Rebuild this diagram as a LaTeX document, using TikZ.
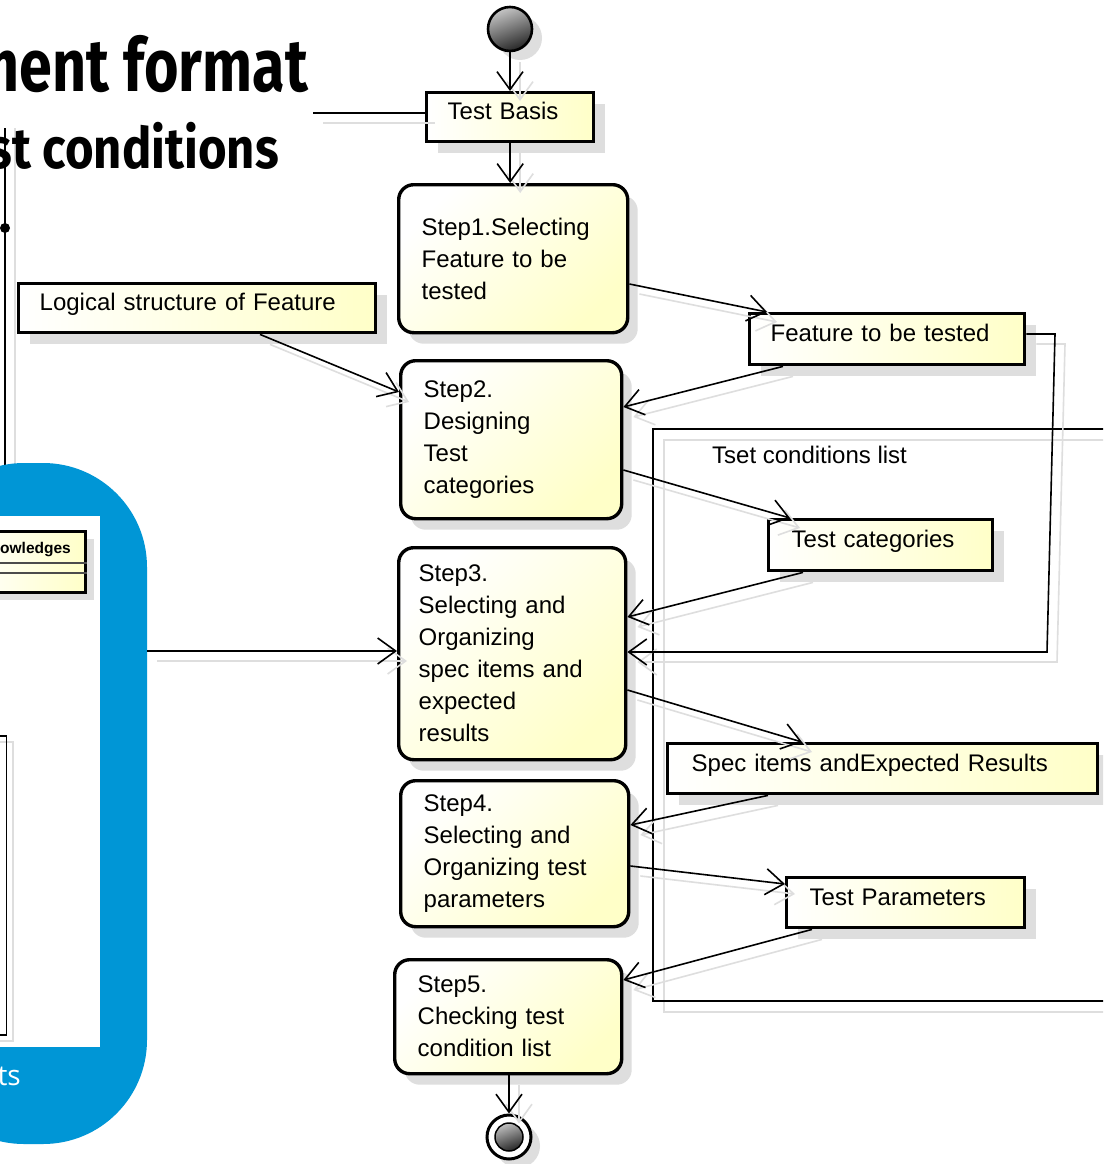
\documentclass[tikz,border=0pt]{standalone}
\usepackage{fontspec}
\usepackage{graphicx}
\setmainfont{Liberation Sans}
\newfontfamily\titlefont{Fira Sans}
\newfontfamily\bluefont{Open Sans}
\usetikzlibrary{arrows.meta,shadows,calc}
\definecolor{ylw}{RGB}{255,255,200}
\definecolor{shgray}{RGB}{222,222,222}
\definecolor{hpblue}{RGB}{0,150,214}
\newcommand{\myconns}[1]{%
  \draw[conn,#1] (start) -- (start |- tb.north);
  \draw[conn,#1] (tb) -- (tb |- s1.north);
  \draw[conn,#1] (s5.south -| endo) -- (endo);
  \draw[conn,#1] (s1.east |- 0,284) -- (767,0 |- ft.north);
  \draw[conn,#1] (783,0 |- ft.south) -- (s2.east |- 0,407);
  \draw[conn,#1] (260,0 |- ls.south) -- (s2.west |- 0,392);
  \draw[conn,#1] (s2.east |- 0,470) -- (790,0 |- tc.north);
  \draw[conn,#1] (803,0 |- tc.south) -- (s3.east |- 0,617);
  \draw[conn,#1] (ft.east |- 0,334) -- (fr1) -- (fr2) -- (s3.east |- 0,652);
  \draw[conn,#1] (s3.east |- 0,690) -- (802,0 |- si.north);
  \draw[conn,#1] (768,0 |- si.south) -- (s4.east |- 0,825);
  \draw[conn,#1] (s4.east |- 0,866) -- (tp.west |- 0,884);
  \draw[conn,#1] (812,0 |- tp.south) -- (s5.east |- 0,980);
  \draw[conn,#1] (bl) -- (s3.west |- 0,651);
  \draw[line width=1.6pt,#1] (tbl) -- (tb.west |- 0,113);
}
\begin{document}
\begin{tikzpicture}[x=1pt,y=-1pt,
  stepbox/.style={draw=black, line width=3.4pt, rounded corners=15pt,
    left color=white, right color=ylw, shading angle=45,
    anchor=north west, align=left, inner xsep=22pt, inner ysep=0pt,
    font=\fontsize{24}{32}\selectfont,
    drop shadow={shadow xshift=10pt, shadow yshift=-11pt, fill=shgray, opacity=1}},
  objbox/.style={draw=black, line width=3.4pt,
    left color=white, right color=ylw,
    anchor=north west, align=left, inner xsep=21pt, inner ysep=0pt,
    text height=18pt, text depth=13pt,
    font=\fontsize{24}{32}\selectfont,
    drop shadow={shadow xshift=11pt, shadow yshift=-11pt, fill=shgray, opacity=1}},
  conn/.style={draw=black, line width=1.6pt,
    -{Straight Barb[length=18pt,width=26pt]}},
]
\useasboundingbox (0,0) rectangle (1103,1164);
\clip (0,0) rectangle (1103,1164);
\fill[white] (0,0) rectangle (1103,1164);

% left vertical lines
\draw[shgray, line width=1.6pt] (15,128) -- (15,470);
\draw[black, line width=1.6pt] (5,128) -- (5,470);
\node[circle, fill=black, inner sep=0pt, minimum size=10pt] (dot) at (5,228) {};

% title
\node[anchor=base east, inner sep=0pt, font=\titlefont\bfseries\fontsize{74}{74}\selectfont] (title1) at (308,92) {\scalebox{0.80}[1]{ment format}};
\node[anchor=base east, inner sep=0pt, font=\titlefont\bfseries\fontsize{57}{57}\selectfont] (title2) at (279,168) {\scalebox{0.86}[1]{st conditions}};

% blue panel
\fill[hpblue, rounded corners=104pt] (-80,463) -- (147,463) -- (147,1144) -- (-80,1144) -- cycle;
\fill[white] (-80,516) rectangle (100,1047);
\node[anchor=base east, inner sep=0pt, text=white, font=\bluefont\fontsize{28}{28}\selectfont] (bluetext) at (21,1085) {ts};

% class box
\node[draw=black, line width=3pt, left color=white, right color=ylw,
  anchor=north east, minimum width=120pt, minimum height=61pt, inner sep=0pt,
  drop shadow={shadow xshift=8pt, shadow yshift=-7pt, fill=shgray, opacity=1}] (kn) at (87,530) {};
\draw[black!70, line width=1.5pt] (kn.west |- 0,563) -- (kn.east |- 0,563);
\draw[black!70, line width=1.5pt] (kn.west |- 0,573) -- (kn.east |- 0,573);
\node[anchor=base east, inner sep=0pt, font=\bfseries\fontsize{15.5}{15.5}\selectfont] (kntext) at (71,553) {owledges};

% thin rect
\draw[shgray, line width=1.2pt] (-14,742) rectangle (13,1041);
\draw[black, line width=1.2pt] (-20,736) rectangle (6.5,1035);

% frame
\draw[shgray, line width=1.3pt] (664,440) rectangle (1130,1012);
\draw[black, line width=1.3pt] (653,429) rectangle (1130,1001);
\node[anchor=west, inner sep=0pt, font=\fontsize{24}{32}\selectfont] (tcltext) at (712,455) {Tset conditions list};

% start and end
\node[circle, draw=black, line width=2.6pt, minimum size=44pt, inner sep=0pt,
  top color=gray!45, bottom color=black!85, shading angle=20,
  drop shadow={shadow xshift=10pt, shadow yshift=-9pt, fill=shgray, opacity=1}] (start) at (510,29) {};
\node[circle, draw=black, line width=3pt, minimum size=44pt, inner sep=0pt, fill=white,
  drop shadow={shadow xshift=9pt, shadow yshift=-9pt, fill=shgray, opacity=1}] (endo) at (509,1137) {};
\node[circle, draw=black, line width=1.5pt, minimum size=28pt, inner sep=0pt,
  top color=gray!50, bottom color=black!85, shading angle=20] (endi) at (endo.center) {};

% object nodes
\node[objbox, minimum width=167pt, minimum height=49pt, text width=125pt] (tb) at (425,91) {Test Basis};
\node[objbox, minimum width=357pt, minimum height=49pt, text width=315pt] (ls) at (17,282) {Logical structure of Feature};
\node[objbox, minimum width=275pt, minimum height=51pt, text width=233pt] (ft) at (748,312) {Feature to be tested};
\node[objbox, minimum width=224pt, minimum height=51pt, inner xsep=23pt, text width=178pt] (tc) at (767,518) {Test categories};
\node[objbox, minimum width=430pt, minimum height=50pt, inner xsep=24pt, text width=382pt] (si) at (666,742) {Spec items andExpected Results};
\node[objbox, minimum width=238pt, minimum height=50pt, inner xsep=23pt, text width=192pt] (tp) at (785,876) {Test Parameters};

% step nodes
\node[stepbox, minimum width=229pt, minimum height=148pt, inner xsep=23pt, text width=183pt] (s1) at (397,183) {Step1.Selecting\\Feature to be\\tested};
\node[stepbox, minimum width=221pt, minimum height=158pt, inner xsep=23pt, text width=175pt] (s2) at (399,359) {Step2.\\Designing\\Test\\categories};
\node[stepbox, minimum width=227pt, minimum height=212pt, inner xsep=20pt, text width=187pt] (s3) at (397,546) {Step3.\\Selecting and\\Organizing\\spec items and\\expected\\results};
\node[stepbox, minimum width=228pt, minimum height=146pt, inner xsep=23pt, text width=182pt] (s4) at (399,779) {Step4.\\Selecting and\\Organizing test\\parameters};
\node[stepbox, minimum width=227pt, minimum height=114pt, inner xsep=23pt, text width=181pt] (s5) at (393,958) {Step5.\\Checking test\\condition list};

% helper coordinates
\coordinate (fr1) at (1055,334);
\coordinate (fr2) at (1047,652);
\coordinate (bl) at (147,651);
\coordinate (tbl) at (313,113);

% connectors: shadows then lines
\begin{scope}[transform canvas={shift={(10pt,-10pt)}}]
\myconns{draw=shgray}
\end{scope}
\myconns{draw=black}
\end{tikzpicture}
\end{document}
